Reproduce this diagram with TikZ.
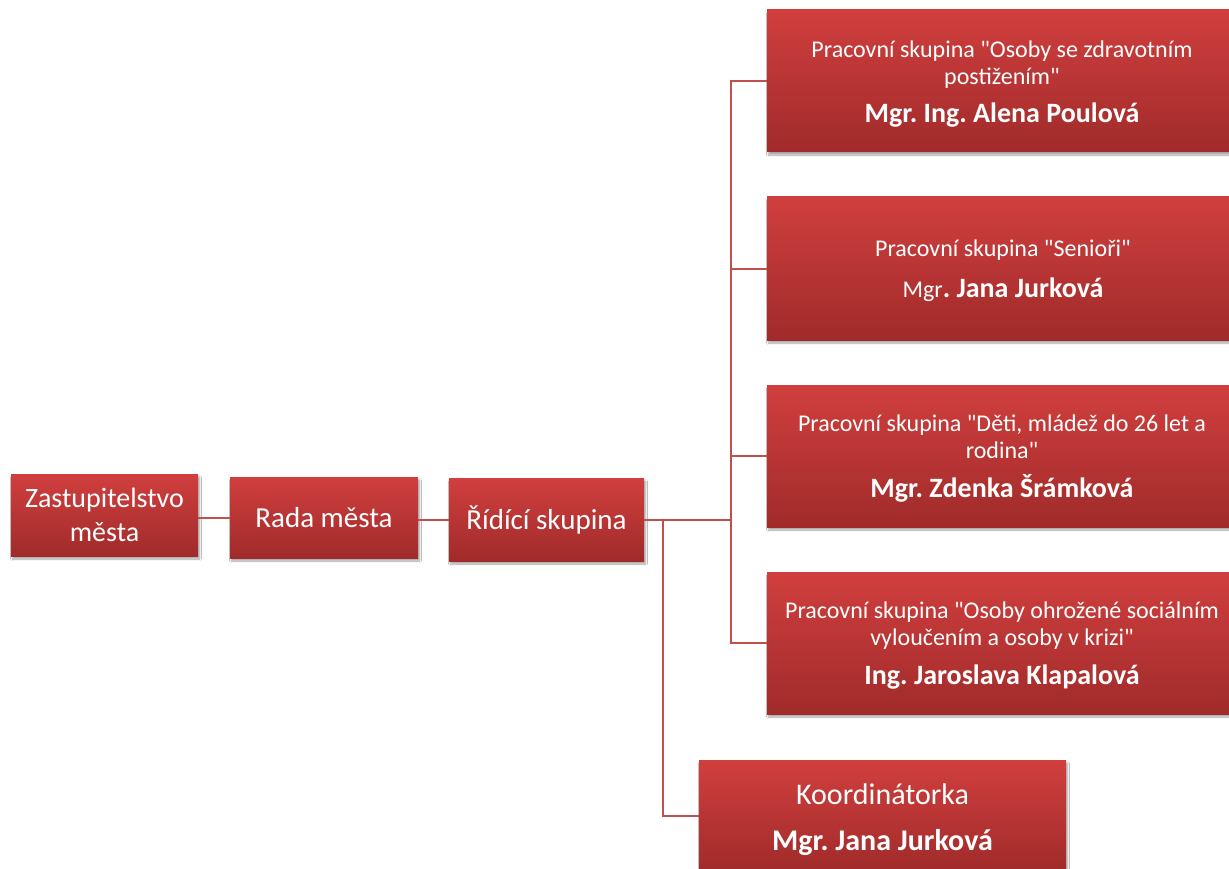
\documentclass[tikz,border=0pt]{standalone}
\usepackage{fontspec}
\setmainfont{Carlito}[Ligatures=TeXOff]
\usetikzlibrary{shadows.blur}
\definecolor{boxtop}{HTML}{D03F3E}
\definecolor{boxbot}{HTML}{A02B2A}
\definecolor{conncol}{HTML}{C0504D}
\frenchspacing
\tikzset{
  redbox/.style={rectangle, top color=boxtop, bottom color=boxbot, draw=none,
    text=white, align=center, inner sep=2pt,
    blur shadow={shadow xshift=1.5pt, shadow yshift=-3pt, shadow opacity=35, shadow blur steps=6}},
  boxtext/.style={text=white, align=center, inner sep=0pt},
  bigtxt/.style={font=\fontsize{29}{34}\selectfont},
  grptxt/.style={font=\fontsize{24}{27}\selectfont},
  conn/.style={draw=conncol, line width=2pt}
}
\newcommand{\nm}[1]{{\fontsize{28}{34}\selectfont\bfseries #1}}
\begin{document}
\begin{tikzpicture}[x=1pt,y=-1pt]
\path[use as bounding box] (0,0) rectangle (1229,869);
\clip (0,0) rectangle (1229,869);
\fill[white] (0,0) rectangle (1229,869);
% left chain
\node[redbox, font=\fontsize{28}{34}\selectfont, minimum width=187pt, minimum height=82pt] (zast) at (104.5,515) {Zastupitelstvo\\města};
\node[redbox, bigtxt, minimum width=188pt, minimum height=81pt] (rada) at (324,517.5) {Rada města};
\node[redbox, bigtxt, minimum width=195pt, minimum height=83pt] (ridici) at (546.5,519.5) {Řídící skupina};
% groups (boxes)
\node[redbox, minimum width=470pt, minimum height=142pt] (g1) at (1002,81) {};
\node[redbox, minimum width=472pt, minimum height=143pt] (g2) at (1003,268.5) {};
\node[redbox, minimum width=470pt, minimum height=142pt] (g3) at (1002,456) {};
\node[redbox, minimum width=470pt, minimum height=142pt] (g4) at (1002,643) {};
\node[redbox, minimum width=367pt, minimum height=112pt] (koord) at (882.5,816) {};
% group texts
\node[boxtext, grptxt] (g1t) at ([yshift=-3pt]g1.center)
  {Pracovní skupina "Osoby se zdravotním\\postižením"\\[11pt]\nm{Mgr. Ing. Alena Poulová}};
\node[boxtext, grptxt] (g2t) at ([yshift=-2pt]g2.center)
  {Pracovní skupina "Senioři"\\[14pt]{\fontsize{24}{27}\selectfont Mgr}\nm{. Jana Jurková}};
\node[boxtext, grptxt] (g3t) at ([yshift=-3pt]g3.center)
  {Pracovní skupina "Děti, mládež do 26 let a\\rodina"\\[12pt]\nm{Mgr. Zdenka Šrámková}};
\node[boxtext, grptxt] (g4t) at ([yshift=-3pt]g4.center)
  {Pracovní skupina "Osoby ohrožené sociálním\\vyloučením a osoby v krizi"\\[12pt]\nm{Ing. Jaroslava Klapalová}};
\node[boxtext, font=\fontsize{30}{34}\selectfont] (koordt) at ([yshift=-3.5pt]koord.center)
  {Koordinátorka\\[12pt]{\bfseries Mgr. Jana Jurková}};
% junctions
\coordinate (j) at (731,520);
\coordinate (k) at (663,520);
% connectors
\draw[conn] (zast.east |- rada.west) -- (rada.west);
\draw[conn] (rada.east |- ridici.west) -- (ridici.west);
\draw[conn] (ridici.east |- j) -- (j);
\draw[conn] (j) |- (g1.west);
\draw[conn] (j) |- (g2.west);
\draw[conn] (j) |- (g3.west);
\draw[conn] (j) |- (g4.west);
\draw[conn] (k) |- (koord.west);
\end{tikzpicture}
\end{document}
